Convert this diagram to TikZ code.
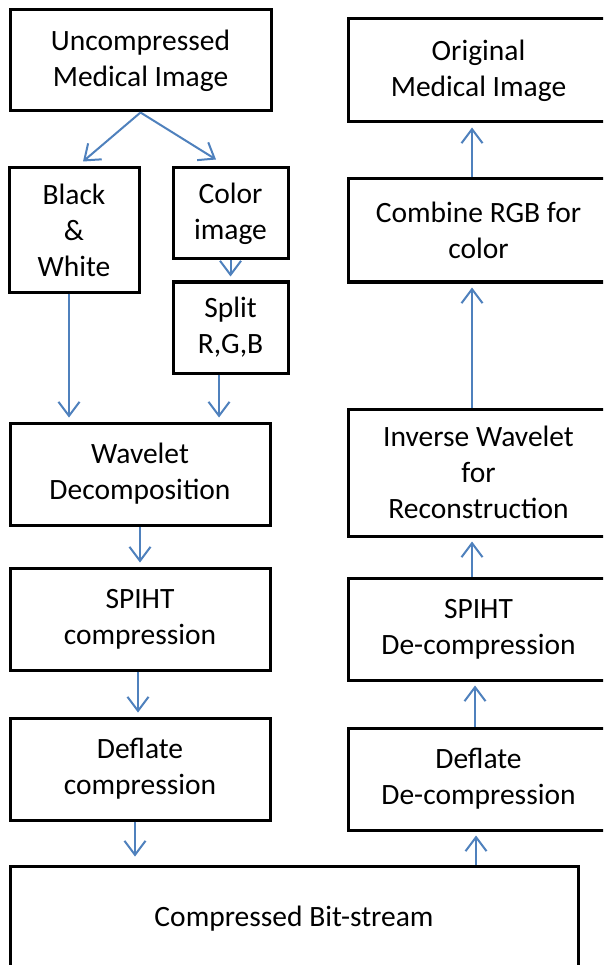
\documentclass[tikz,border=0pt]{standalone}
\usepackage{fontspec}
\setmainfont{Carlito}
\usetikzlibrary{arrows.meta}
\definecolor{flowblue}{RGB}{79,129,189}

\begin{document}
\begin{tikzpicture}[x=1pt,y=-1pt,
  box/.style={draw, rectangle, line width=3pt, align=center, inner sep=0pt,
    font=\fontsize{29.5}{36}\selectfont},
  flow/.style={draw, line width=2pt, flowblue, shorten >=4pt,
    -{Straight Barb[length=14pt,width=21pt]}}]
\clip (0,0) rectangle (603,965);
\fill[white] (0,0) rectangle (603,965);

% compression side
\node[box, minimum width=261, minimum height=101] (1) at (140.5,60.5) {Uncompressed\\Medical Image};
\node[box, minimum width=130, minimum height=124] (2) at (74,230) {Black\\\&\\White};
\node[box, minimum width=115, minimum height=91] (3) at (230.5,213.5) {Color\\image};
\node[box, minimum width=115, minimum height=91] (4) at (230.5,327.5) {Split\\R,G,B};
\node[box, minimum width=260, minimum height=102] (5) at (140,474) {Wavelet\\Decomposition};
\node[box, minimum width=260, minimum height=102] (6) at (140,619) {SPIHT\\compression};
\node[box, minimum width=260, minimum height=102] (7) at (140,769) {Deflate\\compression};
\node[box, minimum width=568, minimum height=106] (8) at (294,919) {Compressed Bit-stream};

% decompression side
\node[box, minimum width=261, minimum height=102] (9) at (478.5,779) {Deflate\\De-compression};
\node[box, minimum width=261, minimum height=102] (10) at (478.5,629) {SPIHT\\De-compression};
\node[box, minimum width=261, minimum height=127] (11) at (478.5,472.5) {Inverse Wavelet\\for\\Reconstruction};
\node[box, minimum width=261, minimum height=103] (12) at (478.5,230.5) {Combine RGB for\\color};
\node[box, minimum width=261, minimum height=103] (13) at (478.5,70.5) {Original\\Medical Image};

\path[flow, shorten >=0pt] (1.south) -- ([shift={(9,-5)}]2.north);
\path[flow, shorten >=0pt] (1.south) -- ([shift={(-14.5,-7)}]3.north);
\path[flow] (3.south) -- (4.north);
\path[flow] ([xshift=-5]2.south) -- ([xshift=-5]2.south |- 5.north);
\path[flow] ([xshift=-11.5]4.south) -- ([xshift=-11.5]4.south |- 5.north);
\path[flow] (5.south) -- (6.north);
\path[flow] ([xshift=-2]6.south) -- ([xshift=-2]6.south |- 7.north);
\path[flow, shorten >=8pt] ([xshift=-5]7.south) -- ([xshift=-5]7.south |- 8.north);

\path[flow] ([xshift=-2.5]9.south |- 8.north) -- ([xshift=-2.5]9.south);
\path[flow] ([xshift=-3.5]9.north) -- ([xshift=-3.5]10.south);
\path[flow] ([xshift=-6.5]10.north) -- ([xshift=-6.5]11.south);
\path[flow] ([xshift=-6.5]11.north) -- ([xshift=-6.5]12.south);
\path[flow] ([xshift=-6.5]12.north) -- ([xshift=-6.5]13.south);
\end{tikzpicture}
\end{document}
